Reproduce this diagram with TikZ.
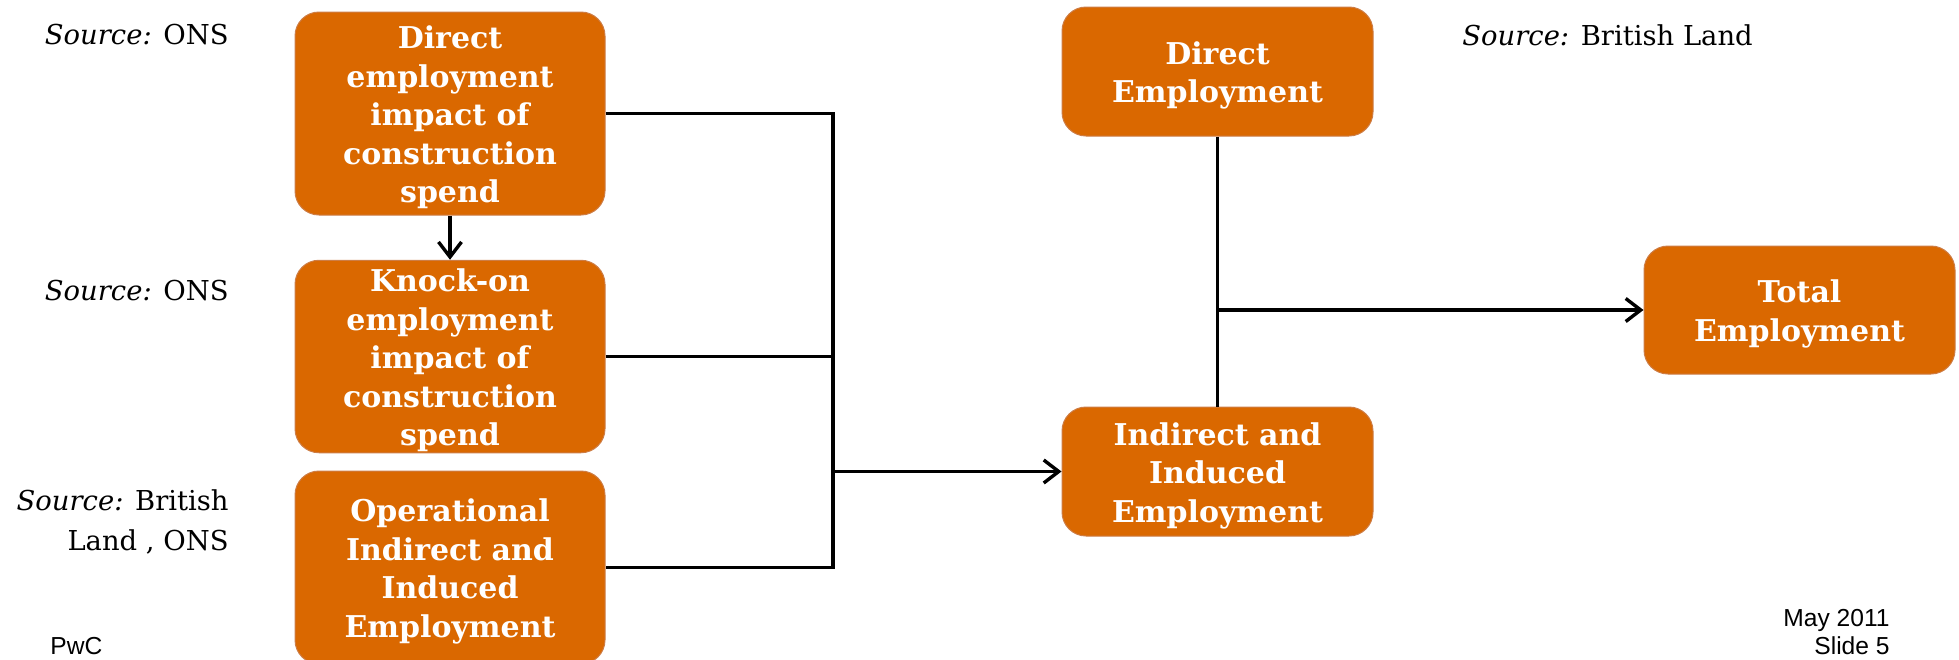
\documentclass[tikz,border=0pt]{standalone}
\usepackage{fontspec}
\setmainfont{DejaVu Serif}
\newfontfamily\slidefont{Liberation Sans}
\usetikzlibrary{arrows.meta}
\definecolor{pwcorange}{RGB}{218,104,0}
\definecolor{boxedge}{RGB}{205,125,70}
% centred lines of box text, set a little below the box's middle
\newcommand{\boxlines}[1]{\raisebox{-2.2pt}[\height][\depth]{\begin{tabular}{@{}c@{}}#1\end{tabular}}}

\begin{document}
\begin{tikzpicture}[x=0.5pt,y=-0.5pt,
  flowbox/.style={draw=boxedge, line width=0.5pt, fill=pwcorange,
    rounded corners=12pt, text=white, inner sep=0pt,
    font=\bfseries\fontsize{15}{19.25}\selectfont},
  wire/.style={line width=1.7pt},
  flowarrow/.style={wire, -{Straight Barb[length=7.5pt,width=11.5pt]}},
  srcnote/.style={font=\fontsize{13.7}{20}\selectfont, align=right, inner sep=0pt},
  slidefoot/.style={font=\slidefont\fontsize{12.3}{14}\selectfont, inner sep=0pt}
]
\path[use as bounding box] (0,0) rectangle (1959,659);

% left column: construction and operational inputs
\node[flowbox, minimum width=155pt, minimum height=101.5pt] (dirA) at (450,113.5)
  {\boxlines{Direct\\employment\\impact of\\construction\\spend}};
\node[flowbox, minimum width=155pt, minimum height=94.5pt] (knock) at (450,356.5)
  {\boxlines{Knock-on\\employment\\impact of\\construction\\spend}};
\node[flowbox, minimum width=155pt, minimum height=96.5pt] (oper) at (450,567.5)
  {\boxlines{Operational\\Indirect and\\Induced\\Employment}};

% right-hand boxes
\node[flowbox, minimum width=155.5pt, minimum height=64.5pt] (direct) at (1217.5,71.5)
  {\boxlines{Direct\\Employment}};
\node[flowbox, minimum width=155.5pt, minimum height=64.5pt] (indir) at (1217.5,471.5)
  {\boxlines{Indirect and\\Induced\\Employment}};
\node[flowbox, minimum width=155.5pt, minimum height=64pt] (total) at (1799.5,310)
  {\boxlines{Total\\Employment}};

% source notes
\node[srcnote, anchor=east] (srcA) at (229,35) {\textit{Source:} ONS};
\node[srcnote, anchor=east] (srcB) at (229,291) {\textit{Source:} ONS};
\node[srcnote, anchor=east] (srcC) at (229,522) {\textit{Source:} British\\Land , ONS};
\node[srcnote, anchor=west] (srcD) at (1462,35) {\textit{Source:} British Land};

% slide footer
\node[slidefoot, anchor=west] (pwc) at (50,646) {PwC};
\node[slidefoot, anchor=east, align=right] (slide) at (1890,632) {May 2011\\Slide 5};

% connectors
\coordinate (bus) at (833,0);
\draw[flowarrow] (dirA.south) -- (knock.north);
\draw[wire] (dirA.east) -- (dirA.east -| bus) -- (oper.east -| bus) -- (oper.east);
\draw[wire] (knock.east) -- (knock.east -| bus);
\draw[flowarrow] (indir.west -| bus) -- (indir.west);
\draw[wire] (direct.south) -- (indir.north);
\draw[flowarrow] (direct.south |- total.west) -- (total.west);
\end{tikzpicture}
\end{document}
